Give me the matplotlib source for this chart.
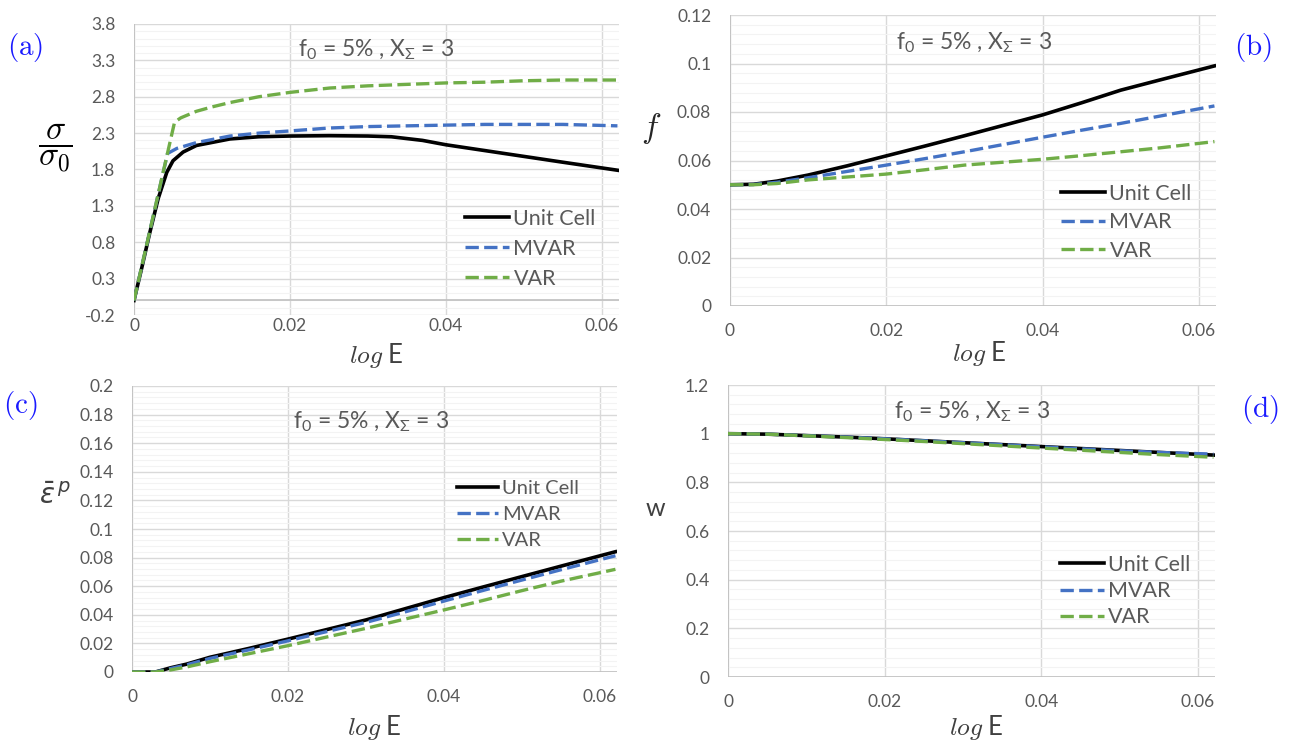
import numpy as np
import matplotlib
matplotlib.use("Agg")
import matplotlib.pyplot as plt
from matplotlib.ticker import AutoMinorLocator

plt.rcParams['font.family'] = ['Lato', 'DejaVu Sans']

W, H = 1289, 743

# ---------------- data ----------------
series_names = ["Unit Cell", "MVAR", "VAR"]
x_ticks = [0, 0.02, 0.04, 0.06]
x_tick_labels = ["0", "0.02", "0.04", "0.06"]

# (a) normalised stress
a_uc_x = [0, 0.001, 0.002, 0.0031, 0.0042, 0.005, 0.0063, 0.008, 0.0123, 0.016, 0.02, 0.025, 0.03, 0.033, 0.037, 0.04, 0.045, 0.05, 0.055, 0.062]
a_uc_y = [0, 0.45, 0.92, 1.40, 1.76, 1.92, 2.04, 2.13, 2.22, 2.25, 2.26, 2.265, 2.26, 2.25, 2.20, 2.14, 2.06, 1.98, 1.90, 1.79]
a_mvar_x = [0, 0.0043, 0.0055, 0.008, 0.0123, 0.016, 0.02, 0.025, 0.03, 0.035, 0.04, 0.045, 0.05, 0.055, 0.062]
a_mvar_y = [0, 2.02, 2.09, 2.17, 2.26, 2.30, 2.33, 2.37, 2.39, 2.40, 2.41, 2.42, 2.42, 2.42, 2.40]
a_var_x = [0, 0.0052, 0.006, 0.008, 0.01, 0.0123, 0.016, 0.02, 0.0251, 0.03, 0.035, 0.04, 0.045, 0.05, 0.055, 0.062]
a_var_y = [0, 2.45, 2.51, 2.60, 2.66, 2.72, 2.80, 2.86, 2.92, 2.95, 2.97, 2.99, 3.00, 3.02, 3.03, 3.03]
a_yticks = [-0.2, 0.3, 0.8, 1.3, 1.8, 2.3, 2.8, 3.3, 3.8]

# (b) porosity f
b_x = [0, 0.003, 0.006, 0.01, 0.015, 0.02, 0.025, 0.03, 0.035, 0.04, 0.045, 0.05, 0.055, 0.062]
b_uc = [0.05, 0.0502, 0.0515, 0.054, 0.0578, 0.0619, 0.066, 0.0702, 0.0745, 0.0788, 0.0838, 0.089, 0.0932, 0.099]
b_mvar = [0.05, 0.0501, 0.051, 0.0529, 0.0555, 0.0581, 0.0608, 0.0636, 0.0666, 0.0696, 0.0725, 0.0753, 0.0783, 0.0825]
b_var = [0.05, 0.05, 0.0505, 0.052, 0.0532, 0.0544, 0.0562, 0.0581, 0.0593, 0.0605, 0.062, 0.0636, 0.0652, 0.0678]
b_yticks = [0, 0.02, 0.04, 0.06, 0.08, 0.1, 0.12]
b_ytick_labels = ["0", "0.02", "0.04", "0.06", "0.08", "0.1", "0.12"]

# (c) equivalent plastic strain
c_x = [0, 0.003, 0.005, 0.007, 0.01, 0.015, 0.02, 0.025, 0.03, 0.035, 0.04, 0.045, 0.05, 0.055, 0.062]
c_uc = [0, 0, 0.003, 0.0055, 0.0103, 0.0165, 0.023, 0.0297, 0.0364, 0.0442, 0.052, 0.0594, 0.0667, 0.074, 0.0841]
c_mvar = [0, 0, 0.0025, 0.005, 0.0095, 0.0155, 0.0218, 0.0283, 0.0347, 0.042, 0.0496, 0.057, 0.0643, 0.0715, 0.0813]
c_var = [0, 0, 0.0015, 0.0035, 0.0072, 0.0128, 0.0184, 0.0245, 0.0305, 0.037, 0.0434, 0.05, 0.0569, 0.0635, 0.0718]
c_yticks = [0, 0.02, 0.04, 0.06, 0.08, 0.1, 0.12, 0.14, 0.16, 0.18, 0.2]
c_ytick_labels = ["0", "0.02", "0.04", "0.06", "0.08", "0.1", "0.12", "0.14", "0.16", "0.18", "0.2"]

# (d) void shape parameter w
d_x = [0, 0.005, 0.01, 0.015, 0.02, 0.025, 0.03, 0.035, 0.04, 0.045, 0.05, 0.055, 0.062]
d_uc = [1.0, 0.998, 0.992, 0.986, 0.979, 0.971, 0.963, 0.955, 0.947, 0.939, 0.931, 0.923, 0.912]
d_mvar = [1.0, 0.998, 0.992, 0.986, 0.979, 0.971, 0.963, 0.955, 0.946, 0.938, 0.930, 0.923, 0.916]
d_var = [1.0, 0.998, 0.991, 0.984, 0.976, 0.968, 0.959, 0.950, 0.941, 0.932, 0.923, 0.914, 0.903]
d_yticks = [0, 0.2, 0.4, 0.6, 0.8, 1.0, 1.2]
d_ytick_labels = ["0", "0.2", "0.4", "0.6", "0.8", "1", "1.2"]

title_text = r"f$_\mathregular{0}$ = 5% , X$_\mathregular{\Sigma}$ = 3"

# ---------------- style ----------------
C_UC, C_MV, C_VA = "black", "#4472C4", "#70AD47"
GRAY = "#595959"
GRID = "#d9d9d9"


def fx(x):
    return x / W


def fy(y):
    return 1 - y / H


fig = plt.figure(figsize=(W / 100, H / 100), dpi=100)


def make_axes(l, r, t, b):
    return fig.add_axes([fx(l), fy(b), fx(r) - fx(l), fy(t) - fy(b)])


def style(ax, ylim, yticks, ylabels, xpad):
    ax.set_xlim(0, 0.0622)
    ax.set_ylim(*ylim)
    ax.set_xticks(x_ticks)
    ax.set_xticklabels(x_tick_labels)
    ax.set_yticks(yticks)
    ax.set_yticklabels(ylabels)
    ax.yaxis.set_minor_locator(AutoMinorLocator(5))
    ax.grid(which='major', color=GRID, lw=1.0, zorder=0)
    ax.grid(which='minor', axis='y', color="#f3f3f3", lw=0.8, zorder=0)
    for s in ax.spines.values():
        s.set_visible(False)
    ax.axvline(0, color="#bfbfbf", lw=1.2, zorder=1)
    ax.axhline(max(ylim[0], 0), color="#bfbfbf", lw=1.2, zorder=1)
    ax.tick_params(which='both', length=0, labelsize=12.5, labelcolor=GRAY)
    ax.tick_params(axis='y', pad=13.5)
    ax.tick_params(axis='x', pad=xpad)
    ax.set_axisbelow(True)


def plot3(ax, xs, ys):
    lw = 2.4
    ax.plot(xs[0], ys[0], color=C_UC, lw=2.6, label=series_names[0], zorder=3)
    ax.plot(xs[1], ys[1], color=C_MV, lw=lw, dashes=(4, 1.6), label=series_names[1], zorder=4)
    ax.plot(xs[2], ys[2], color=C_VA, lw=lw, dashes=(4, 1.6), label=series_names[2], zorder=5)


def legend(ax, left, top, fs, spacing):
    ax.legend(loc='upper left', bbox_to_anchor=(fx(left), fy(top)), bbox_transform=fig.transFigure,
              frameon=False, borderpad=0, borderaxespad=0, handlelength=2.05, handletextpad=0.2,
              labelspacing=spacing, fontsize=fs, labelcolor=GRAY)


# (a)
axa = make_axes(134, 619, 24, 315)
style(axa, (-0.2, 3.8), a_yticks, ["%.1f" % v for v in a_yticks], 2.5)
plot3(axa, [a_uc_x, a_mvar_x, a_var_x], [a_uc_y, a_mvar_y, a_var_y])
legend(axa, 465, 209, 15.5, 0.46)

# (b)
axb = make_axes(730, 1216, 15, 306)
style(axb, (0, 0.12), b_yticks, b_ytick_labels, 12.5)
plot3(axb, [b_x] * 3, [b_uc, b_mvar, b_var])
legend(axb, 1061, 184, 15.5, 0.39)

# (c)
axc = make_axes(132, 617, 386, 672)
style(axc, (0, 0.2), c_yticks, c_ytick_labels, 12.5)
plot3(axc, [c_x] * 3, [c_uc, c_mvar, c_var])
legend(axc, 457, 480, 14.5, 0.44)

# (d)
axd = make_axes(728, 1215, 385, 677)
style(axd, (0, 1.2), d_yticks, d_ytick_labels, 12.5)
plot3(axd, [d_x] * 3, [d_uc, d_mvar, d_var])
legend(axd, 1060, 555, 15.5, 0.29)

# titles inside panels
for (x, y) in [(376, 50), (974, 43), (371, 422), (972, 412)]:
    fig.text(fx(x), fy(y), title_text, ha='center', va='center', fontsize=16.5, color=GRAY)

# panel letters
for (x, y, s) in [(25, 47, "(a)"), (1253, 47, "(b)"), (20, 405, "(c)"), (1260, 410, "(d)")]:
    fig.text(fx(x), fy(y), "$\\mathrm{%s}$" % s, ha='center', va='center', fontsize=21,
             color="#1a1aff", math_fontfamily='cm')

# x labels
for (x, y) in [(376, 355), (979, 353), (374, 727), (976, 727)]:
    fig.text(fx(x), fy(y), r"$\mathit{log}$ E", ha='center', va='center', fontsize=18.5,
             color="#404040", math_fontfamily='cm')

# y labels
fig.text(fx(55), fy(148), r"$\dfrac{\sigma}{\sigma_0}$", ha='center', va='center', fontsize=24,
         color="black", math_fontfamily='cm')
fig.text(fx(651), fy(128), r"$f$", ha='center', va='center', fontsize=24,
         color="#262626", math_fontfamily='cm')
fig.text(fx(55), fy(496), r"$\bar{\varepsilon}^{\,p}$", ha='center', va='center', fontsize=20,
         color="#404040", math_fontfamily='dejavusans')
fig.text(fx(655), fy(508), "w", ha='center', va='center', fontsize=18, color="#404040")

fig.savefig("out.png", dpi=100)
